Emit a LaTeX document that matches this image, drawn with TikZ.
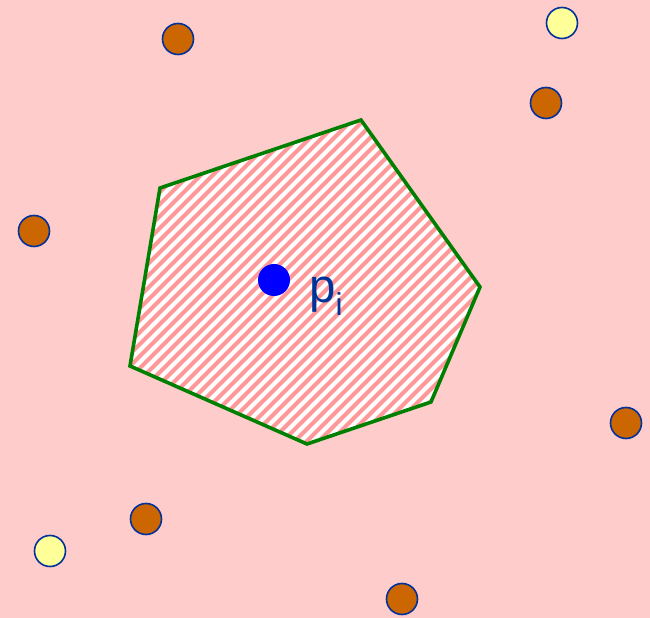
\documentclass[tikz,border=0pt]{standalone}
\usepackage{fontspec}
\setmainfont{Liberation Sans}
\definecolor{bgpink}{HTML}{FFCCCC}
\definecolor{hatchpink}{HTML}{FF9999}
\definecolor{edgegreen}{HTML}{008000}
\definecolor{siteorange}{HTML}{CC6600}
\definecolor{siteyellow}{HTML}{FFFF99}
\definecolor{rimblue}{HTML}{003399}
\definecolor{dotblue}{HTML}{0000FF}
\tikzset{
  site/.style={circle, draw=rimblue, line width=1.6*0.02cm, minimum size=31*0.02cm, inner sep=0pt},
  farsite/.style={site, fill=siteorange},
  nearsite/.style={site, fill=siteyellow},
  hatchline/.style={hatchpink, line width=4.2*0.02cm},
  celledge/.style={edgegreen, line width=3.6*0.02cm, line join=miter},
}
\begin{document}
\begin{tikzpicture}[x=0.02cm, y=-0.02cm]
\fill[bgpink] (0,0) rectangle (650,618);
\useasboundingbox (0,0) rectangle (650,618);
\coordinate (v1) at (160,188);
\coordinate (v2) at (361,120);
\coordinate (v3) at (480,287);
\coordinate (v4) at (431,402);
\coordinate (v5) at (307,444);
\coordinate (v6) at (130,366);
\fill[white] (v1) -- (v2) -- (v3) -- (v4) -- (v5) -- (v6) -- cycle;
\begin{scope}
  \clip (v1) -- (v2) -- (v3) -- (v4) -- (v5) -- (v6) -- cycle;
  \foreach \k in {-140,-128,...,400} {
    \draw[hatchline] (\k,480) -- ++(480,-480);
  }
\end{scope}
\draw[celledge] (v1) -- (v2) -- (v3) -- (v4) -- (v5) -- (v6) -- cycle;
\node[farsite] (s1) at (178,39) {};
\node[farsite] (s2) at (546,103) {};
\node[farsite] (s3) at (34,231) {};
\node[farsite] (s4) at (626,423) {};
\node[farsite] (s5) at (146,519) {};
\node[farsite] (s6) at (402,599) {};
\node[nearsite] (n1) at (562,23) {};
\node[nearsite] (n2) at (50,551) {};
\node[circle, fill=dotblue, minimum size=32*0.02cm, inner sep=0pt] (pi) at (274,280) {};
\node[anchor=base west, inner sep=0pt, text=rimblue] (lbl) at (309,303)
  {\fontsize{27}{27}\selectfont p\raisebox{-7pt}{\fontsize{18}{18}\selectfont i}};
\end{tikzpicture}
\end{document}
